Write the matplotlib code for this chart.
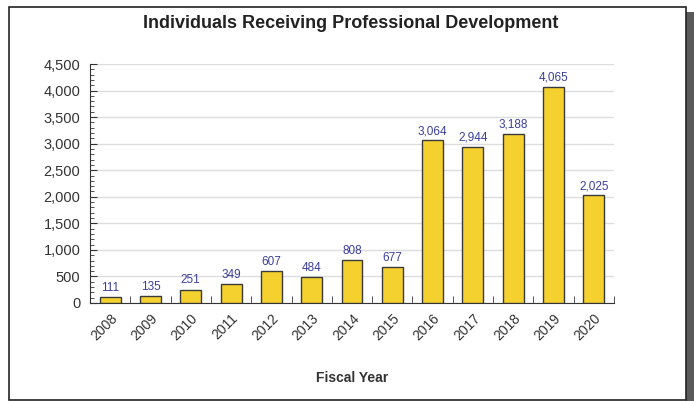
import matplotlib.pyplot as plt
from matplotlib.patches import Rectangle
from matplotlib.ticker import MultipleLocator, FuncFormatter
import numpy as np

plt.rcParams['font.family'] = ['Liberation Sans', 'DejaVu Sans']

# 数据
years = ['2008', '2009', '2010', '2011', '2012', '2013', '2014',
         '2015', '2016', '2017', '2018', '2019', '2020']
counts = [111, 135, 251, 349, 607, 484, 808, 677, 3064, 2944, 3188, 4065, 2025]

fig = plt.figure(figsize=(6.94, 4.01), dpi=100)
ax = fig.add_axes([90 / 694, 1 - 303 / 401, 524 / 694, 239 / 401])
ax.set_zorder(5)
ax.patch.set_alpha(0)

# 外框和右侧阴影
fig.patches.append(Rectangle((686 / 694, 0), 8 / 694, 1 - 12 / 401,
                             transform=fig.transFigure, facecolor='#5a5a5a',
                             edgecolor='none', zorder=0))
fig.patches.append(Rectangle((9 / 694, 1 / 401), 677 / 694, 393 / 401,
                             transform=fig.transFigure, facecolor='white',
                             edgecolor='#222222', linewidth=1.2, zorder=1))

x = np.arange(len(years))
ax.bar(x, counts, width=0.52, color='#F5D130', edgecolor='#3a3a3a',
       linewidth=1.0, zorder=3)

for xi, v in zip(x, counts):
    ax.text(xi, v + 60, f'{v:,}', ha='center', va='bottom', fontsize=8.5,
            color='#3a3f9a', zorder=4)

ax.set_xlim(-0.5, len(years) - 0.5)
ax.set_ylim(0, 4500)
ax.yaxis.set_major_locator(MultipleLocator(500))
ax.yaxis.set_minor_locator(MultipleLocator(100))
ax.yaxis.set_major_formatter(FuncFormatter(lambda v, p: f'{int(v):,}'))
ax.grid(axis='y', color='#dddddd', linewidth=1.0, zorder=0)

ax.set_xticks(x)
ax.set_xticklabels(years, rotation=45, ha='right', rotation_mode='anchor',
                   fontsize=10, color='#333333')
ax.tick_params(axis='x', length=0, pad=6)
ax.set_xticks(np.arange(len(years) + 1) - 0.5, minor=True)
ax.tick_params(axis='x', which='minor', direction='in', length=5,
               color='#333333')
ax.tick_params(axis='y', which='major', direction='in', length=5,
               labelsize=10.5, labelcolor='#333333', color='#333333', pad=7)
ax.tick_params(axis='y', which='minor', direction='in', length=3,
               color='#333333')

for s in ['top', 'right']:
    ax.spines[s].set_visible(False)
for s in ['left', 'bottom']:
    ax.spines[s].set_color('#333333')

ax.set_xlabel('Fiscal Year', fontsize=10, fontweight='bold', color='#333333',
              labelpad=20)
fig.text(351 / 694, 1 - 24 / 401, 'Individuals Receiving Professional Development',
         ha='center', va='center', fontsize=13, fontweight='bold',
         color='#222222', zorder=6)

fig.savefig('out.png', dpi=100)
